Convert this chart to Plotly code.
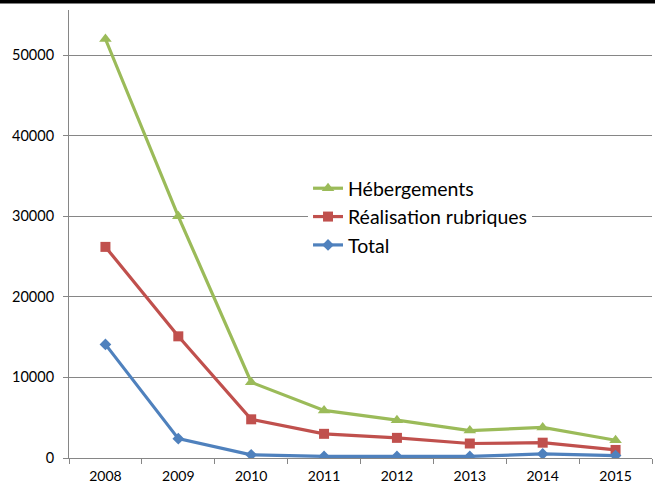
import plotly.graph_objects as go

years = ["2008", "2009", "2010", "2011", "2012", "2013", "2014", "2015"]
hebergements = [52000, 30000, 9400, 5900, 4700, 3400, 3800, 2200]
realisation = [26200, 15100, 4800, 3000, 2500, 1800, 1900, 1000]
total = [14100, 2400, 400, 200, 200, 200, 500, 300]
y_ticks = [0, 10000, 20000, 30000, 40000, 50000]
y_tick_text = ["0", "10000", "20000", "30000", "40000", "50000"]

fig = go.Figure()
fig.add_trace(go.Scatter(x=years, y=hebergements, name="Hébergements", mode="lines+markers",
                         line=dict(color="#9BBB59", width=3.2),
                         marker=dict(symbol="triangle-up", size=11, color="#9BBB59")))
fig.add_trace(go.Scatter(x=years, y=realisation, name="Réalisation rubriques", mode="lines+markers",
                         line=dict(color="#C0504D", width=3.2),
                         marker=dict(symbol="square", size=10, color="#C0504D")))
fig.add_trace(go.Scatter(x=years, y=total, name="Total", mode="lines+markers",
                         line=dict(color="#4F81BD", width=3.2),
                         marker=dict(symbol="diamond", size=9, color="#4F81BD")))

fig.update_layout(
    width=655, height=488,
    margin=dict(l=69, r=3, t=10, b=30),
    paper_bgcolor="white", plot_bgcolor="white",
    font=dict(family="Lato, Open Sans, sans-serif", color="#000000"),
    showlegend=True,
    legend=dict(x=0.41, y=0.645, xanchor="left", yanchor="top",
                bgcolor="white", font=dict(size=19.5), traceorder="normal",
                itemwidth=30),
    xaxis=dict(type="category", showgrid=False, showline=True, linecolor="#868686", linewidth=1,
               ticks="outside", ticklen=5, tickcolor="#868686", tickson="boundaries",
               tickfont=dict(size=14), range=[-0.5, 7.5], fixedrange=True,
               ticklabelstandoff=5),
    yaxis=dict(range=[0, 55600], tickvals=y_ticks, ticktext=y_tick_text, showgrid=True,
               gridcolor="#868686", gridwidth=1,
               showline=True, linecolor="#868686", linewidth=1, ticks="outside", ticklen=5,
               tickcolor="#868686", tickfont=dict(size=14.5), zeroline=False,
               ticklabelstandoff=6),
)
fig.add_shape(type="line", xref="paper", yref="paper", x0=-0.2, x1=1.1,
              y0=1 + 8.5 / 448, y1=1 + 8.5 / 448, line=dict(color="black", width=4))
fig.write_html("out.html", config={"displayModeBar": False},
               post_script="document.body.style.margin='0';document.body.style.padding='0';")
